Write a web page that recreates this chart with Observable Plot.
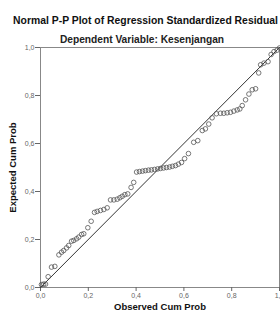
<!DOCTYPE html>
<html>
<head>
<meta charset="utf-8">
<script src="https://cdn.jsdelivr.net/npm/d3@7"></script>
<script src="https://cdn.jsdelivr.net/npm/@observablehq/plot@0.6"></script>
<style>
  html, body { margin: 0; padding: 0; background: white; }
  #chart { width: 280px; height: 313px; overflow: hidden; }
</style>
</head>
<body>
<div id="chart"></div>
<script>
const title = "Normal P-P Plot of Regression Standardized Residual";
const subtitle = "Dependent Variable: Kesenjangan";
const xLabel = "Observed Cum Prob";
const yLabel = "Expected Cum Prob";
const tickValues = [0, 0.2, 0.4, 0.6, 0.8, 1.0];

const observed = [
  0.004, 0.013, 0.021, 0.032, 0.046, 0.060, 0.077, 0.088, 0.097, 0.109,
  0.118, 0.130, 0.139, 0.151, 0.160, 0.172, 0.181, 0.198, 0.212, 0.226,
  0.237, 0.251, 0.265, 0.279, 0.293, 0.307, 0.321, 0.332, 0.342, 0.353,
  0.365, 0.379, 0.390, 0.402, 0.414, 0.427, 0.439, 0.452, 0.464, 0.477,
  0.490, 0.502, 0.515, 0.527, 0.540, 0.552, 0.565, 0.577, 0.590, 0.603,
  0.619, 0.641, 0.658, 0.677, 0.690, 0.704, 0.718, 0.736, 0.753, 0.767,
  0.781, 0.795, 0.809, 0.823, 0.834, 0.844, 0.858, 0.872, 0.886, 0.900,
  0.913, 0.921, 0.935, 0.952, 0.965, 0.977, 0.990, 1.000
];
const expected = [
  0.012, 0.014, 0.014, 0.045, 0.085, 0.088, 0.136, 0.147, 0.154, 0.165,
  0.175, 0.193, 0.196, 0.203, 0.210, 0.221, 0.224, 0.249, 0.276, 0.313,
  0.317, 0.321, 0.325, 0.332, 0.365, 0.365, 0.368, 0.374, 0.380, 0.387,
  0.390, 0.417, 0.438, 0.481, 0.483, 0.485, 0.487, 0.489, 0.490, 0.492,
  0.494, 0.496, 0.498, 0.500, 0.502, 0.505, 0.508, 0.514, 0.521, 0.537,
  0.558, 0.605, 0.612, 0.654, 0.661, 0.681, 0.707, 0.724, 0.726, 0.726,
  0.728, 0.730, 0.735, 0.740, 0.744, 0.758, 0.782, 0.806, 0.824, 0.828,
  0.894, 0.928, 0.935, 0.941, 0.971, 0.983, 0.989, 0.998
];
const refX = [0, 1];
const refY = [0, 1];

const points = observed.map((o, i) => ({o, e: expected[i]}));
const ref = refX.map((x, i) => ({x, y: refY[i]}));
const fmt = d => d.toFixed(1).replace(".", ",");

const chart = Plot.plot({
  width: 280,
  height: 313,
  marginLeft: 40,
  marginRight: 1,
  marginTop: 47,
  marginBottom: 26,
  style: {fontFamily: "'Liberation Sans', Arial, sans-serif", background: "white", overflow: "visible"},
  x: {domain: [0, 1]},
  y: {domain: [0, 1]},
  marks: [
    Plot.frame({stroke: "#888", strokeWidth: 1}),
    Plot.axisX({ticks: tickValues, tickFormat: fmt, tickSize: 4, tickPadding: 2, fontSize: 7, color: "#666", label: null}),
    Plot.axisY({ticks: tickValues, tickFormat: fmt, tickSize: 5, tickPadding: 1, fontSize: 7, color: "#666", label: null}),
    Plot.line(ref, {x: "x", y: "y", stroke: "#333", strokeWidth: 1}),
    Plot.dot(points, {x: "o", y: "e", r: 2.3, stroke: "#555", strokeWidth: 0.8, fill: "none"}),
    Plot.text([title], {frameAnchor: "top", dx: -14.5, dy: -27, lineAnchor: "middle", fontSize: 10.4, fontWeight: "bold", fill: "#111"}),
    Plot.text([subtitle], {frameAnchor: "top", dx: -18, dy: -7.5, lineAnchor: "middle", fontSize: 10.2, fontWeight: "bold", fill: "#222"}),
    Plot.text([xLabel], {frameAnchor: "bottom", dy: 19.5, lineAnchor: "middle", fontSize: 9.5, fontWeight: "bold", fill: "#111"}),
    Plot.text([yLabel], {frameAnchor: "left", dx: -28, rotate: -90, lineAnchor: "middle", textAnchor: "middle", fontSize: 9.5, fontWeight: "bold", fill: "#111"})
  ]
});
document.getElementById("chart").appendChild(chart);
</script>
</body>
</html>
